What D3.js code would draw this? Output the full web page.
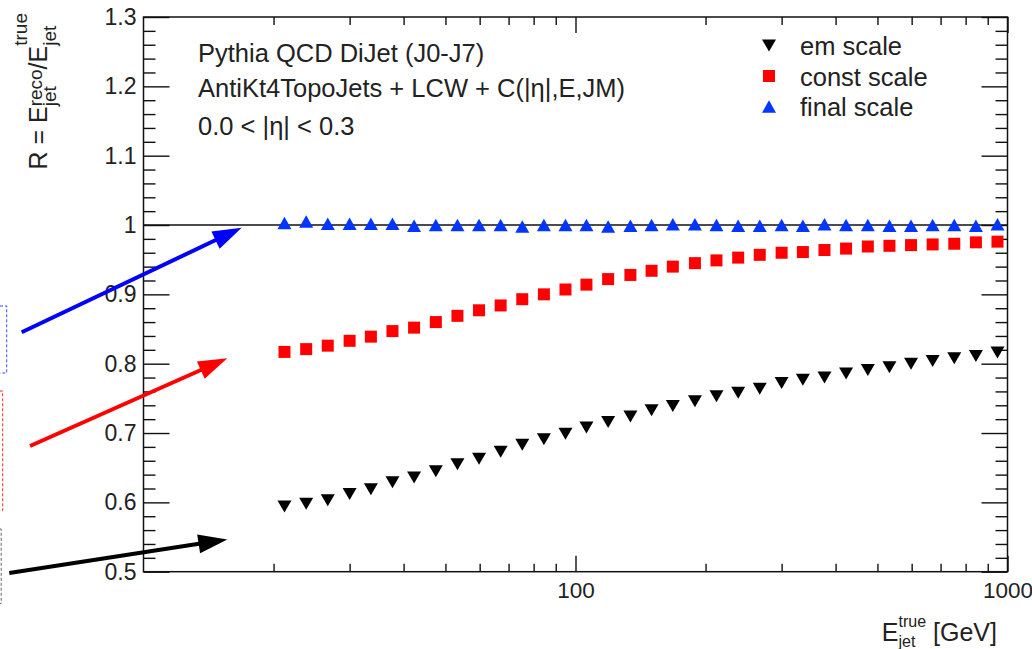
<!DOCTYPE html>
<html>
<head>
<meta charset="utf-8">
<script src="https://cdn.jsdelivr.net/npm/d3@7"></script>
<style>
  html, body { margin: 0; padding: 0; background: #fff; }
  svg { display: block; font-family: "Liberation Sans", Arial, Helvetica, sans-serif; }
</style>
</head>
<body>
<svg id="chart" width="1032" height="649"></svg>
<script>
// ---------------- data ----------------
const energies = [21.2, 23.8, 26.7, 30.0, 33.6, 37.7, 42.3, 47.5, 53.3, 59.8,
                  67.1, 75.3, 84.5, 94.8, 106, 119, 134, 150, 168, 189,
                  212, 238, 267, 300, 336, 377, 423, 475, 533, 598,
                  671, 753, 845, 948];
const emScale = [0.594, 0.598, 0.603, 0.612, 0.619, 0.629, 0.636, 0.645, 0.655, 0.663,
                 0.673, 0.683, 0.691, 0.699, 0.708, 0.716, 0.724, 0.733, 0.739, 0.746,
                 0.753, 0.758, 0.764, 0.772, 0.777, 0.780, 0.786, 0.791, 0.795, 0.800,
                 0.804, 0.808, 0.811, 0.816];
const constScale = [0.817, 0.821, 0.826, 0.833, 0.839, 0.847, 0.852, 0.860, 0.869, 0.877,
                    0.884, 0.893, 0.900, 0.907, 0.914, 0.922, 0.928, 0.934, 0.940, 0.945,
                    0.949, 0.953, 0.957, 0.960, 0.961, 0.964, 0.966, 0.969, 0.970, 0.971,
                    0.972, 0.973, 0.975, 0.976];
const finalScale = [1.003, 1.005, 1.002, 1.002, 1.002, 1.002, 0.999, 1.000, 1.000, 1.000,
                    1.000, 0.998, 1.000, 1.000, 1.000, 0.998, 0.999, 1.000, 1.001, 1.001,
                    1.000, 0.999, 0.999, 1.000, 0.999, 1.001, 1.000, 1.000, 0.999, 0.999,
                    1.000, 1.000, 0.999, 1.001];
const seriesNames = ["em scale", "const scale", "final scale"];
const yMajorTicks = [0.5, 0.6, 0.7, 0.8, 0.9, 1.0, 1.1, 1.2, 1.3];
const yTickLabels = ["0.5", "0.6", "0.7", "0.8", "0.9", "1", "1.1", "1.2", "1.3"];
const xMajorTicks = [100, 1000];
const xTickLabels = ["100", "1000"];
const xMinorTicks = [20, 30, 40, 50, 60, 70, 80, 90, 200, 300, 400, 500, 600, 700, 800, 900];
const infoLines = ["Pythia QCD DiJet (J0-J7)", "AntiKt4TopoJets + LCW + C(|η|,E,JM)", "0.0 < |η| < 0.3"];

// ---------------- layout ----------------
const svg = d3.select("#chart");
const L = 143.5, R = 1007.5, T = 17, B = 571.7;
const x = d3.scaleLog().domain([10, 1000]).range([L, R]);
const y = d3.scaleLinear().domain([0.5, 1.3]).range([B, T]);
const textColor = "#222";
const cBlack = "#000", cRed = "#ff0000", cBlue = "#0036ff";

const yMinorTicks = d3.range(0, 41).map(i => 0.5 + i * 0.02).filter(v => Math.abs((v * 10) - Math.round(v * 10)) > 1e-6);

function styleAxis(size) {
  return g => {
    g.select(".domain").remove();
    g.selectAll(".tick line").attr("stroke", "#111").attr("stroke-width", 1.4);
    g.selectAll(".tick text").attr("fill", textColor).attr("font-size", size)
      .attr("font-family", "Liberation Sans, Arial, sans-serif");
  };
}

// left axis
svg.append("g").attr("transform", `translate(${L},0)`)
  .call(d3.axisLeft(y).tickValues(yMinorTicks).tickSize(-12).tickFormat(""))
  .call(styleAxis(23));
svg.append("g").attr("transform", `translate(${L},0)`)
  .call(d3.axisLeft(y).tickValues(yMajorTicks).tickSize(-26).tickPadding(7)
        .tickFormat((d, i) => yTickLabels[i]))
  .call(styleAxis(23));
// right axis
svg.append("g").attr("transform", `translate(${R},0)`)
  .call(d3.axisRight(y).tickValues(yMinorTicks).tickSize(-12).tickFormat(""))
  .call(styleAxis(23));
svg.append("g").attr("transform", `translate(${R},0)`)
  .call(d3.axisRight(y).tickValues(yMajorTicks).tickSize(-26).tickFormat(""))
  .call(styleAxis(23));
// bottom axis
svg.append("g").attr("transform", `translate(0,${B})`)
  .call(d3.axisBottom(x).tickValues(xMinorTicks).tickSize(-8).tickFormat(""))
  .call(styleAxis(22.5));
svg.append("g").attr("transform", `translate(0,${B})`)
  .call(d3.axisBottom(x).tickValues(xMajorTicks).tickSize(-16).tickPadding(10)
        .tickFormat((d, i) => xTickLabels[i]))
  .call(styleAxis(22.5));
// top axis
svg.append("g").attr("transform", `translate(0,${T})`)
  .call(d3.axisTop(x).tickValues(xMinorTicks).tickSize(-8).tickFormat(""))
  .call(styleAxis(22.5));
svg.append("g").attr("transform", `translate(0,${T})`)
  .call(d3.axisTop(x).tickValues(xMajorTicks).tickSize(-16).tickFormat(""))
  .call(styleAxis(22.5));

// frame
svg.append("rect").attr("x", L).attr("y", T).attr("width", R - L).attr("height", B - T)
  .attr("fill", "none").attr("stroke", "#111").attr("stroke-width", 1.5);

// reference line at 1
svg.append("line").attr("x1", L).attr("x2", R).attr("y1", y(1)).attr("y2", y(1))
  .attr("stroke", "#111").attr("stroke-width", 1.6);

// ---------------- markers ----------------
function triUp(w, h) { return `M${-w/2},${h/2}L${w/2},${h/2}L0,${-h/2}Z`; }
function triDown(w, h) { return `M${-w/2},${-h/2}L${w/2},${-h/2}L0,${h/2}Z`; }
function square(s) { return `M${-s/2},${-s/2}h${s}v${s}h${-s}Z`; }

const series = [
  { name: seriesNames[0], vals: emScale, path: triDown(14, 12), color: cBlack },
  { name: seriesNames[1], vals: constScale, path: square(12), color: cRed },
  { name: seriesNames[2], vals: finalScale, path: triUp(14, 12.5), color: cBlue }
];

series.forEach(s => {
  svg.append("g").selectAll("path").data(energies).join("path")
    .attr("d", s.path)
    .attr("fill", s.color)
    .attr("transform", (d, i) => `translate(${x(d)},${y(s.vals[i])})`);
});

// ---------------- legend ----------------
const legY = [45.5, 76, 106.5];
series.forEach((s, i) => {
  svg.append("path").attr("d", s.path).attr("fill", s.color)
    .attr("transform", `translate(769,${legY[i]})`);
  svg.append("text").attr("x", 800).attr("y", legY[i] + 9.5).attr("font-size", 25.5)
    .attr("fill", textColor).text(s.name);
});

// ---------------- info text ----------------
const infoY = [62, 97, 135];
infoLines.forEach((t, i) => {
  svg.append("text").attr("x", 198).attr("y", infoY[i]).attr("font-size", 25.5)
    .attr("fill", textColor).text(t);
});

// ---------------- rich axis titles ----------------
function richText(parent, pieces) {
  const inner = parent.append("g");
  let cx = 0, stackW = 0;
  pieces.forEach(p => {
    const t = inner.append("text").attr("font-size", p.size).attr("y", p.dy || 0)
      .attr("fill", textColor).attr("x", cx).text(p.t);
    const w = t.node().getComputedTextLength();
    if (p.kind === "sub") { stackW = w; }
    else if (p.kind === "sup") { cx += Math.max(stackW, w); stackW = 0; }
    else { cx += w; }
  });
  inner.attr("transform", `translate(${-cx},0)`);
  return cx;
}

// x title (right aligned)
const xt = svg.append("g").attr("transform", "translate(997,641)");
richText(xt, [
  { t: "E", size: 25 },
  { t: "jet", size: 16, dy: 5.5, kind: "sub" },
  { t: "true", size: 16, dy: -14, kind: "sup" },
  { t: "\u00a0[GeV]", size: 25 }
]);

// y title (rotated, right aligned at top)
const yt = svg.append("g").attr("transform", "translate(47,13) rotate(-90)");
richText(yt, [
  { t: "R = E", size: 25 },
  { t: "jet", size: 19, dy: 9, kind: "sub" },
  { t: "reco", size: 19, dy: -5, kind: "sup" },
  { t: "/E", size: 25 },
  { t: "jet", size: 19, dy: 9, kind: "sub" },
  { t: "true", size: 19, dy: -20, kind: "sup" }
]);

// ---------------- annotation boxes and arrows (left edge) ----------------
const boxes = [
  { y0: 306, y1: 373, x1: 6.7, color: "#3a4dff" },
  { y0: 391, y1: 510.7, x1: 2.7, color: "#ff2020" },
  { y0: 529, y1: 603.5, x1: 1.2, color: "#666" }
];
boxes.forEach(b => {
  svg.append("rect").attr("x", -40).attr("y", b.y0).attr("width", 40 + b.x1)
    .attr("height", b.y1 - b.y0).attr("fill", "none").attr("stroke", b.color)
    .attr("stroke-width", 1).attr("stroke-dasharray", "3,2");
});

const arrows = [
  { x0: 21.7, y0: 332.3, x1: 241.7, y1: 227.7, color: "#0000ff" },
  { x0: 30, y0: 446, x1: 227.3, y1: 358.3, color: "#ff0000" },
  { x0: 9.3, y0: 573, x1: 227.3, y1: 539.5, color: "#000" }
];
arrows.forEach(a => {
  const dx = a.x1 - a.x0, dy = a.y1 - a.y0, len = Math.hypot(dx, dy);
  const ux = dx / len, uy = dy / len, px = -uy, py = ux;
  const hl = 29, hw = 9.5;
  const bx = a.x1 - ux * hl, by = a.y1 - uy * hl;
  svg.append("line").attr("x1", a.x0).attr("y1", a.y0).attr("x2", bx + ux * 2).attr("y2", by + uy * 2)
    .attr("stroke", a.color).attr("stroke-width", 4);
  svg.append("path")
    .attr("d", `M${a.x1},${a.y1}L${bx + px * hw},${by + py * hw}L${bx - px * hw},${by - py * hw}Z`)
    .attr("fill", a.color);
});
</script>
</body>
</html>
